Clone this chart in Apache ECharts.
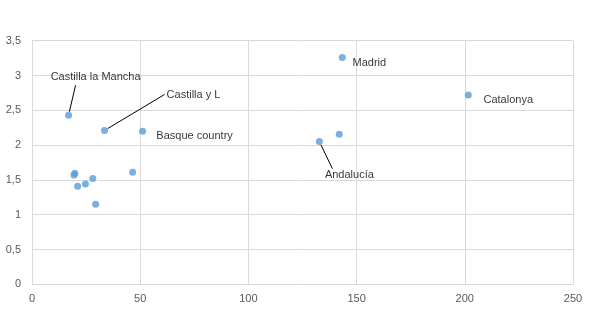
<!DOCTYPE html>
<html><head><meta charset="utf-8">
<script src="https://cdn.jsdelivr.net/npm/echarts@6/dist/echarts.min.js"></script>
<style>html,body{margin:0;padding:0;background:#fff}#c{width:595px;height:315px}</style>
</head><body><div id="c"></div>
<script>
// Data
var xValues = [16.9, 33.5, 51.1, 46.5, 19.4, 19.8, 21.1, 24.7, 28.1, 29.4, 143.4, 201.6, 132.8, 142.0];
var yValues = [2.43, 2.21, 2.20, 1.61, 1.57, 1.595, 1.41, 1.44, 1.52, 1.15, 3.26, 2.72, 2.05, 2.155];
var names = ['Castilla la Mancha', 'Castilla y L', 'Basque country', '', '', '', '', '', '', '', 'Madrid', 'Catalonya', 'Andalucía', ''];
var xTicks = [0, 50, 100, 150, 200, 250];
var yTicks = [0, 0.5, 1, 1.5, 2, 2.5, 3, 3.5];

// Label placement (styling): text-centre offset dx, dy, leader line, padding [t, r, b, l]
var labelStyles = {
  'Castilla la Mancha': { off: [27, -38], line: true, pad: [0, 0, 5, 40] },
  'Castilla y L': { off: [89, -36], line: true, pad: [0, 0, 6, 2] },
  'Basque country': { off: [52, 5], line: false, pad: [0, 0, 0, 0] },
  'Madrid': { off: [27, 6], line: false, pad: [0, 0, 0, 0] },
  'Catalonya': { off: [40, 5], line: false, pad: [0, 0, 0, 0] },
  'Andalucía': { off: [30, 33], line: true, pad: [1, 0, 0, 34] }
};

var data = xValues.map(function (x, i) {
  var n = names[i];
  var item = { value: [x, yValues[i]], name: n };
  if (n) {
    var s = labelStyles[n];
    item.label = { show: true, padding: s.pad, backgroundColor: 'rgba(255,255,255,0)' };
    item.labelLine = { show: s.line, lineStyle: { color: '#000', width: 1 } };
  }
  return item;
});

var chart = echarts.init(document.getElementById('c'), null, { renderer: 'canvas' });
chart.setOption({
  animation: false,
  grid: { left: 32, right: 22, top: 40.7, bottom: 30.7 },
  xAxis: {
    type: 'value', min: 0, max: 250, interval: 50,
    axisLine: { show: true, lineStyle: { color: '#d9d9d9' } },
    axisTick: { show: false },
    splitLine: { show: true, lineStyle: { color: '#d9d9d9' } },
    axisLabel: { color: '#595959', fontFamily: 'Liberation Sans, Arial', fontSize: 11, margin: 9 }
  },
  yAxis: {
    type: 'value', min: 0, max: 3.5, interval: 0.5,
    axisLine: { show: false },
    axisTick: { show: false },
    splitLine: { show: true, lineStyle: { color: '#d9d9d9' } },
    axisLabel: {
      color: '#595959', fontFamily: 'Liberation Sans, Arial', fontSize: 11, margin: 11,
      formatter: function (v) { return String(v).replace('.', ','); }
    }
  },
  series: [{
    type: 'scatter',
    data: data,
    symbolSize: 7,
    itemStyle: { color: '#5b9bd5' },
    label: {
      show: false, position: 'inside',
      formatter: '{b}', color: '#000',
      fontFamily: 'Liberation Sans, Arial', fontSize: 11
    },
    labelLine: { show: false },
    labelLayout: function (p) {
      var s = labelStyles[names[p.dataIndex]];
      if (!s) return {};
      var pd = s.pad;
      return { dx: s.off[0] + (pd[1] - pd[3]) / 2, dy: s.off[1] };
    }
  }]
});
</script></body></html>
